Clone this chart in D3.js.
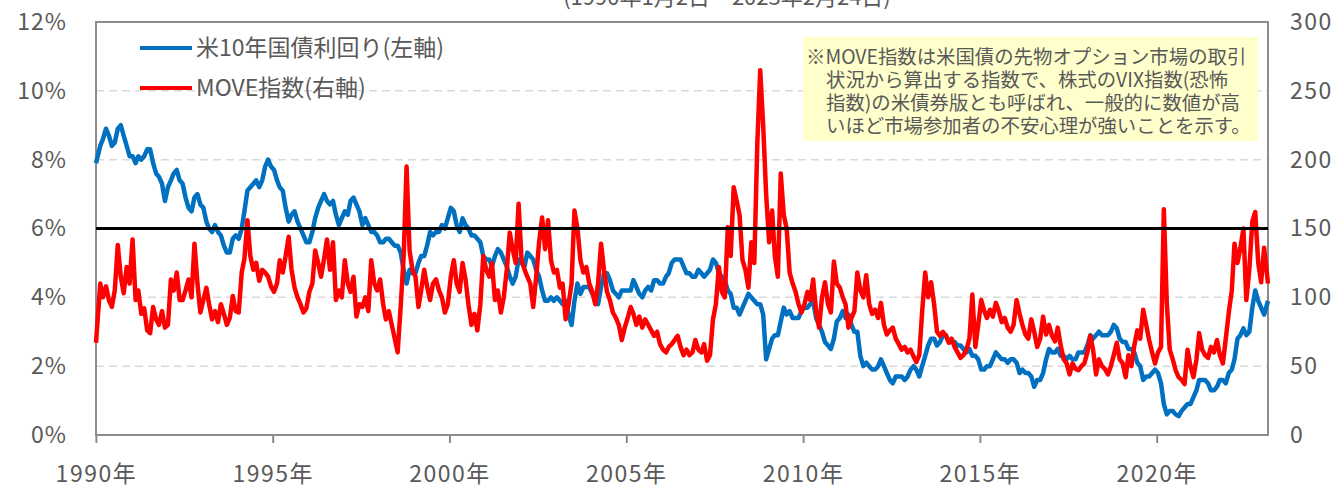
<!DOCTYPE html>
<html>
<head>
<meta charset="utf-8">
<script src="https://cdn.jsdelivr.net/npm/d3@7"></script>
<style>
  body { margin: 0; background: #fff; }
  svg text { font-family: "Noto Sans CJK JP", "Noto Sans", sans-serif; fill: #595959; }
</style>
</head>
<body>
<svg id="chart" width="1343" height="488"></svg>
<script>
// 米10年国債利回り (%), 月次 1990年1月～2023年2月
var yieldValues = [
  7.9, 8.4, 8.6, 8.9, 8.7, 8.4, 8.5, 8.9, 9.0, 8.7, 8.4, 8.1,
  8.1, 7.9, 8.1, 8.0, 8.1, 8.3, 8.3, 7.9, 7.6, 7.5, 7.3, 6.8,
  7.2, 7.4, 7.6, 7.7, 7.4, 7.3, 6.9, 6.6, 6.5, 6.9, 7.0, 6.7,
  6.6, 6.2, 6.0, 5.9, 6.1, 5.9, 5.8, 5.5, 5.3, 5.3, 5.7, 5.8,
  5.7, 6.0, 6.5, 7.1, 7.2, 7.3, 7.4, 7.2, 7.4, 7.8, 8.0, 7.8,
  7.7, 7.4, 7.2, 7.1, 6.6, 6.2, 6.4, 6.5, 6.2, 6.0, 5.8, 5.6,
  5.6, 5.9, 6.3, 6.6, 6.8, 7.0, 6.8, 6.7, 6.8, 6.4, 6.1, 6.3,
  6.5, 6.4, 6.8, 6.9, 6.7, 6.5, 6.1, 6.3, 6.1, 5.9, 5.9, 5.8,
  5.6, 5.6, 5.7, 5.7, 5.6, 5.5, 5.5, 5.3, 4.8, 4.4, 4.8, 4.7,
  4.7, 5.0, 5.2, 5.2, 5.5, 5.9, 5.8, 5.9, 5.9, 6.1, 6.0, 6.3,
  6.6, 6.5, 6.1, 5.9, 6.3, 6.1, 6.0, 5.8, 5.8, 5.7, 5.6, 5.2,
  5.1, 5.1, 4.9, 5.2, 5.4, 5.3, 5.1, 4.9, 4.6, 4.4, 4.6, 5.1,
  5.0, 4.9, 5.3, 5.2, 5.1, 4.8, 4.6, 4.2, 3.9, 3.9, 4.0, 3.9,
  4.0, 3.9, 3.8, 3.9, 3.5, 3.2, 3.9, 4.4, 4.1, 4.3, 4.3, 4.3,
  4.1, 4.0, 3.8, 4.3, 4.7, 4.7, 4.5, 4.2, 4.1, 4.0, 4.2, 4.2,
  4.2, 4.2, 4.5, 4.3, 4.1, 4.0, 4.2, 4.3, 4.2, 4.5, 4.5, 4.4,
  4.4, 4.6, 4.7, 5.0, 5.1, 5.1, 5.1, 4.9, 4.7, 4.7, 4.6, 4.6,
  4.8, 4.7, 4.6, 4.7, 4.8, 5.1, 5.0, 4.7, 4.6, 4.5, 4.2, 4.1,
  3.7, 3.7, 3.5, 3.7, 3.9, 4.1, 4.0, 3.9, 3.8, 3.8, 3.5, 2.2,
  2.5, 2.8, 2.9, 2.9, 3.3, 3.7, 3.5, 3.6, 3.4, 3.4, 3.4, 3.6,
  3.7, 3.7, 3.8, 3.9, 3.4, 3.2, 3.0, 2.7, 2.6, 2.5, 2.8, 3.3,
  3.4, 3.6, 3.4, 3.5, 3.2, 3.0, 3.0, 2.3, 2.0, 2.1, 2.0, 1.9,
  1.9, 2.0, 2.2, 2.0, 1.8, 1.6, 1.5, 1.7, 1.7, 1.7, 1.6, 1.7,
  1.9, 2.0, 1.9, 1.7, 2.0, 2.3, 2.6, 2.8, 2.8, 2.6, 2.7, 2.9,
  2.9, 2.7, 2.7, 2.7, 2.6, 2.6, 2.5, 2.4, 2.5, 2.3, 2.3, 2.2,
  1.9, 1.9, 2.0, 2.0, 2.2, 2.4, 2.3, 2.2, 2.2, 2.1, 2.2, 2.2,
  2.1, 1.8, 1.9, 1.8, 1.8, 1.7, 1.4, 1.6, 1.6, 1.8, 2.2, 2.5,
  2.4, 2.4, 2.5, 2.3, 2.3, 2.2, 2.3, 2.2, 2.2, 2.4, 2.4, 2.4,
  2.6, 2.9, 2.8, 2.9, 3.0, 2.9, 2.9, 2.9, 3.0, 3.2, 3.1, 2.8,
  2.7, 2.7, 2.5, 2.5, 2.4, 2.1, 2.0, 1.6, 1.7, 1.7, 1.8, 1.9,
  1.8, 1.5, 0.9, 0.6, 0.7, 0.7, 0.6, 0.55, 0.7, 0.8, 0.9, 0.9,
  1.1, 1.3, 1.6, 1.6, 1.6, 1.5, 1.3, 1.3, 1.4, 1.6, 1.6, 1.5,
  1.8, 1.9, 2.2, 2.8, 2.9, 3.1, 2.9, 3.0, 3.7, 4.2, 3.9, 3.7,
  3.5, 3.9
];

// MOVE指数, 月次 1990年1月～2023年2月
var moveValues = [
  67, 110, 100, 108, 98, 93, 105, 138, 115, 103, 122, 110,
  142, 98, 105, 88, 92, 76, 74, 93, 84, 80, 90, 78,
  80, 113, 105, 118, 98, 98, 105, 113, 100, 139, 110, 89,
  98, 107, 95, 84, 90, 82, 95, 88, 80, 85, 101, 90,
  89, 118, 128, 156, 130, 120, 125, 112, 120, 118, 115, 108,
  104, 110, 127, 118, 130, 144, 120, 107, 100, 95, 89, 92,
  104, 110, 134, 125, 115, 128, 142, 120, 140, 98, 105, 100,
  127, 110, 104, 115, 86, 95, 93, 100, 90, 127, 110, 105,
  113, 95, 84, 90, 80, 70, 60, 93, 130, 195, 134, 120,
  115, 93, 105, 120, 108, 98, 110, 113, 105, 100, 89, 95,
  115, 127, 110, 104, 125, 113, 95, 80, 88, 76, 95, 130,
  120, 115, 125, 98, 105, 89, 100, 120, 147, 135, 125, 168,
  127, 120, 115, 110, 93, 115, 140, 158, 135, 156, 127, 118,
  120, 107, 110, 84, 95, 110, 163, 150, 127, 118, 122, 110,
  104, 95, 110, 139, 120, 104, 98, 89, 85, 80, 69, 78,
  85, 93, 88, 80, 86, 78, 84, 80, 76, 72, 75, 66,
  62, 60, 64, 66, 69, 72, 64, 58, 62, 58, 60, 69,
  62, 60, 66, 54, 58, 84, 95, 122, 104, 100, 151, 130,
  180, 170, 160, 127, 120, 107, 140, 125, 212, 265, 224, 175,
  140, 163, 130, 115, 190, 160, 150, 118, 110, 104, 95, 89,
  95, 104, 98, 113, 90, 78, 100, 111, 95, 89, 126, 110,
  107, 100, 95, 78, 85, 90, 118, 105, 100, 116, 95, 88,
  91, 85, 96, 80, 73, 76, 78, 70, 66, 62, 64, 60,
  62, 57, 53, 58, 90, 118, 100, 111, 95, 75, 72, 75,
  72, 67, 70, 64, 60, 56, 58, 62, 70, 102, 64, 80,
  98, 90, 85, 91, 86, 96, 90, 82, 85, 78, 75, 80,
  98, 88, 80, 73, 70, 84, 75, 64, 70, 86, 73, 80,
  72, 68, 78, 65, 55, 52, 44, 52, 48, 47, 50, 52,
  60, 72, 62, 44, 55, 50, 48, 44, 50, 58, 67, 55,
  52, 42, 58, 50, 65, 76, 70, 91, 80, 69, 60, 52,
  60, 64, 164, 95, 62, 55, 47, 42, 40, 37, 62, 50,
  42, 55, 74, 62, 58, 56, 64, 60, 69, 58, 52, 70,
  89, 105, 139, 125, 136, 150, 98, 120, 155, 162, 125, 111,
  136, 110
];

var leftTicks = [0, 2, 4, 6, 8, 10, 12];
var rightTicks = [0, 50, 100, 150, 200, 250, 300];
var yearTicks = [1990, 1995, 2000, 2005, 2010, 2015, 2020];
var refLevel = 6; // 黒線 (左軸)

var seriesNames = ["米10年国債利回り(左軸)", "MOVE指数(右軸)"];
var seriesColors = ["#0070C0", "#FF0000"];
var titleText = "(1990年1月2日～2023年2月24日)";
var noteLines = [
  "※MOVE指数は米国債の先物オプション市場の取引",
  "状況から算出する指数で、株式のVIX指数(恐怖",
  "指数)の米債券版とも呼ばれ、一般的に数値が高",
  "いほど市場参加者の不安心理が強いことを示す。"
];

function draw() {
  // dates: mid-month, first and last on the actual start/end days
  var startDate = new Date(1990, 0, 2), endDate = new Date(2023, 1, 24);
  var dates = yieldValues.map(function (v, i) { return new Date(1990, i, 15); });
  dates[0] = startDate;
  dates[dates.length - 1] = endDate;

  var svg = d3.select("#chart");
  var pLeft = 96, pRight = 1268, pTop = 22, pBottom = 435;

  var x = d3.scaleTime().domain([startDate, endDate]).range([pLeft, pRight]);
  var yL = d3.scaleLinear().domain([0, 12]).range([pBottom, pTop]);
  var yR = d3.scaleLinear().domain([0, 300]).range([pBottom, pTop]);

  // title (cut off at the top)
  svg.append("text").attr("x", 727).attr("y", 5)
    .attr("text-anchor", "middle").style("font-size", "22px").text(titleText);

  // gridlines
  svg.append("g").selectAll("line")
    .data(leftTicks.filter(function (t) { return t > 0 && t < 12; }))
    .enter().append("line")
    .attr("x1", pLeft).attr("x2", pRight)
    .attr("y1", function (d) { return yL(d); }).attr("y2", function (d) { return yL(d); })
    .attr("stroke", "#D9D9D9").attr("stroke-width", 1.5).attr("stroke-dasharray", "8,5");

  // frame
  svg.append("rect").attr("x", pLeft).attr("y", pTop)
    .attr("width", pRight - pLeft).attr("height", pBottom - pTop)
    .attr("fill", "none").attr("stroke", "#8C8C8C").attr("stroke-width", 2);

  // x axis
  var xAxis = d3.axisBottom(x)
    .tickValues(yearTicks.map(function (y) { return new Date(y, 0, 1); }))
    .tickFormat(function (d) { return d.getFullYear() + "年"; })
    .tickSize(8).tickPadding(23);
  var gx = svg.append("g").attr("transform", "translate(0," + pBottom + ")").call(xAxis);
  gx.select(".domain").remove();
  gx.selectAll("line").attr("stroke", "#8C8C8C").attr("stroke-width", 2);
  gx.selectAll("text").style("font-size", "23px").style("letter-spacing", "1.5px")
    .attr("fill", "#595959");

  // left axis
  var gl = svg.append("g").attr("transform", "translate(" + pLeft + ",0)")
    .call(d3.axisLeft(yL).tickValues(leftTicks).tickSize(0).tickPadding(29)
      .tickFormat(function (d) { return d + "%"; }));
  gl.select(".domain").remove();
  gl.selectAll("text").style("font-size", "23px").style("letter-spacing", "1px")
    .attr("fill", "#595959");

  // right axis
  var gr = svg.append("g").attr("transform", "translate(" + pRight + ",0)")
    .call(d3.axisRight(yR).tickValues(rightTicks).tickSize(0).tickPadding(22));
  gr.select(".domain").remove();
  gr.selectAll("text").style("font-size", "23px").style("letter-spacing", "1.5px")
    .attr("fill", "#595959");

  // lines
  var lineL = d3.line().x(function (d, i) { return x(dates[i]); }).y(function (d) { return yL(d); });
  var lineR = d3.line().x(function (d, i) { return x(dates[i]); }).y(function (d) { return yR(d); });

  svg.append("path").datum(yieldValues).attr("d", lineL)
    .attr("fill", "none").attr("stroke", seriesColors[0]).attr("stroke-width", 4.5)
    .attr("stroke-linejoin", "round");
  svg.append("path").datum(moveValues).attr("d", lineR)
    .attr("fill", "none").attr("stroke", seriesColors[1]).attr("stroke-width", 4.5)
    .attr("stroke-linejoin", "round");

  // 6% reference line
  svg.append("line").attr("x1", pLeft).attr("x2", pRight)
    .attr("y1", yL(refLevel)).attr("y2", yL(refLevel))
    .attr("stroke", "#000").attr("stroke-width", 3);

  // legend
  var legend = svg.append("g");
  seriesNames.forEach(function (name, i) {
    var ly = 48 + i * 40;
    legend.append("line").attr("x1", 140).attr("x2", 192).attr("y1", ly).attr("y2", ly)
      .attr("stroke", seriesColors[i]).attr("stroke-width", 4);
    legend.append("text").attr("x", 196).attr("y", ly + 8)
      .style("font-size", "23px").text(name);
  });

  // note box
  svg.append("rect").attr("x", 803).attr("y", 37).attr("width", 455).attr("height", 104)
    .attr("fill", "#FFFFCC");
  noteLines.forEach(function (t, i) {
    svg.append("text").attr("x", i === 0 ? 806 : 826).attr("y", 64 + i * 23)
      .style("font-size", "19.4px").text(t);
  });
}

draw();
</script>
</body>
</html>
